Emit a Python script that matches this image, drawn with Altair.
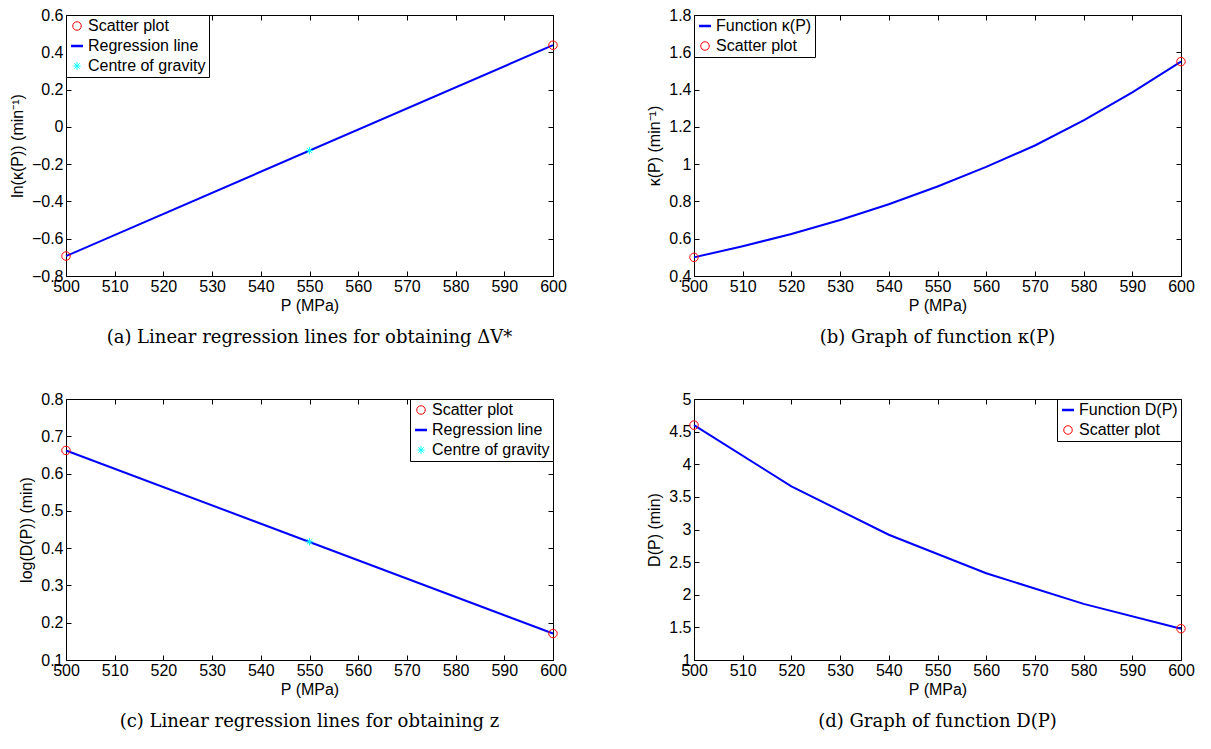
import altair as alt
import pandas as pd

# ---------------- data ----------------
x_ticks = [500, 510, 520, 530, 540, 550, 560, 570, 580, 590, 600]

# (a) ln(kappa(P))
P_ends = [500, 600]
lnk_scatter = [-0.693, 0.438]
lnk_regression = [-0.693, 0.438]
cog_P = [550]
lnk_cog = [-0.1275]
yticks_a = [-0.8, -0.6, -0.4, -0.2, 0, 0.2, 0.4, 0.6]

# (b) kappa(P)
P_kappa = [500, 510, 520, 530, 540, 550, 560, 570, 580, 590, 600]
kappa_vals = [0.50, 0.56, 0.625, 0.70, 0.785, 0.88, 0.985, 1.10, 1.235, 1.385, 1.55]
kappa_scatter = [0.50, 1.55]
yticks_b = [0.4, 0.6, 0.8, 1, 1.2, 1.4, 1.6, 1.8]

# (c) log(D(P))
logD_scatter = [0.662, 0.171]
logD_regression = [0.662, 0.171]
logD_cog = [0.417]
yticks_c = [0.1, 0.2, 0.3, 0.4, 0.5, 0.6, 0.7, 0.8]

# (d) D(P)
P_D = [500, 520, 540, 560, 580, 600]
D_vals = [4.60, 3.66, 2.92, 2.33, 1.86, 1.48]
D_scatter = [4.60, 1.48]
yticks_d = [1, 1.5, 2, 2.5, 3, 3.5, 4, 4.5, 5]

RED = "#ff0000"
BLUE = "#0000ff"
CYAN = "#00ffff"
ASTERISK = "M-1,0L1,0M0,-1L0,1M-0.72,-0.72L0.72,0.72M-0.72,0.72L0.72,-0.72"

SANS = "Liberation Sans"
SERIF = "DejaVu Serif"
W = 487
H = 261


def panel(line_df, pts_df, domain, shapes, colors, sizes, widths,
          ydom, yticks, ytitle, caption, legend_orient):
    xs = alt.Scale(domain=[500, 600], nice=False, zero=False)
    ys = alt.Scale(domain=ydom, nice=False, zero=False)
    x_bottom = alt.Axis(orient="bottom", values=x_ticks, title="P (MPa)",
                        offset=-5, tickSize=5, domain=False, grid=False,
                        labelFlush=False, labelPadding=2, titlePadding=3)
    y_left = alt.Axis(orient="left", values=yticks, title=ytitle, format="~g",
                      offset=-5, tickSize=5, domain=False, grid=False,
                      labelFlush=False, labelPadding=3, titlePadding=6)
    x_top = alt.Axis(orient="top", values=x_ticks, title=None, labels=False,
                     offset=-5, tickSize=5, domain=False, grid=False)
    y_right = alt.Axis(orient="right", values=yticks, title=None, labels=False,
                       offset=-5, tickSize=5, domain=False, grid=False)

    leg = alt.Legend(orient=legend_orient, title=None, offset=0,
                     fillColor="white", strokeColor="black", padding=3,
                     rowPadding=4, labelFont=SANS, labelFontSize=16,
                     labelColor="black", labelOffset=3, symbolOpacity=1)

    line = alt.Chart(line_df).mark_line(color=BLUE, strokeWidth=2).encode(
        x=alt.X("P:Q", scale=xs, axis=x_bottom),
        y=alt.Y("v:Q", scale=ys, axis=y_left),
    )
    pts = alt.Chart(pts_df).mark_point(filled=False, opacity=1).encode(
        x=alt.X("P:Q", scale=xs, axis=None),
        y=alt.Y("v:Q", scale=ys, axis=None),
        color=alt.Color("series:N", scale=alt.Scale(domain=domain, range=colors), legend=leg),
        shape=alt.Shape("series:N", scale=alt.Scale(domain=domain, range=shapes), legend=leg),
        size=alt.Size("series:N", scale=alt.Scale(type="ordinal", domain=domain, range=sizes), legend=leg),
        strokeWidth=alt.StrokeWidth("series:N", scale=alt.Scale(type="ordinal", domain=domain, range=widths), legend=leg),
    )
    ghost = alt.Chart(line_df).mark_line(opacity=0).encode(
        x=alt.X("P:Q", scale=xs, axis=x_top),
        y=alt.Y("v:Q", scale=ys, axis=y_right),
    )
    return alt.layer(line, pts, ghost).resolve_axis(
        x="independent", y="independent"
    ).properties(
        width=W, height=H,
        title=alt.TitleParams(caption, orient="bottom", anchor="middle", frame="group",
                              font=SERIF, fontSize=18, fontWeight="normal",
                              color="black", offset=16),
    )


# ---- (a)
line_a = pd.DataFrame({"P": P_ends, "v": lnk_regression})
pts_a = pd.DataFrame({
    "P": P_ends + cog_P,
    "v": lnk_scatter + lnk_cog,
    "series": ["Scatter plot"] * len(P_ends) + ["Centre of gravity"] * len(cog_P),
})
dom_reg = ["Scatter plot", "Regression line", "Centre of gravity"]
pa = panel(line_a, pts_a, dom_reg, ["circle", "stroke", ASTERISK], [RED, BLUE, CYAN],
           [72, 144, 56], [1, 2.5, 1], [-0.8, 0.6], yticks_a, "ln(κ(P)) (min⁻¹)",
           "(a) Linear regression lines for obtaining ΔV*", "top-left")

# ---- (b)
line_b = pd.DataFrame({"P": P_kappa, "v": kappa_vals})
pts_b = pd.DataFrame({"P": P_ends, "v": kappa_scatter, "series": ["Scatter plot"] * 2})
dom_fk = ["Function κ(P)", "Scatter plot"]
pb = panel(line_b, pts_b, dom_fk, ["stroke", "circle"], [BLUE, RED], [144, 72], [2.5, 1],
           [0.4, 1.8], yticks_b, "κ(P) (min⁻¹)", "(b) Graph of function κ(P)", "top-left")

# ---- (c)
line_c = pd.DataFrame({"P": P_ends, "v": logD_regression})
pts_c = pd.DataFrame({
    "P": P_ends + cog_P,
    "v": logD_scatter + logD_cog,
    "series": ["Scatter plot"] * len(P_ends) + ["Centre of gravity"] * len(cog_P),
})
pc = panel(line_c, pts_c, dom_reg, ["circle", "stroke", ASTERISK], [RED, BLUE, CYAN],
           [72, 144, 56], [1, 2.5, 1], [0.1, 0.8], yticks_c, "log(D(P)) (min)",
           "(c) Linear regression lines for obtaining z", "top-right")

# ---- (d)
line_d = pd.DataFrame({"P": P_D, "v": D_vals})
pts_d = pd.DataFrame({"P": P_ends, "v": D_scatter, "series": ["Scatter plot"] * 2})
dom_fd = ["Function D(P)", "Scatter plot"]
pd_ = panel(line_d, pts_d, dom_fd, ["stroke", "circle"], [BLUE, RED], [144, 72], [2.5, 1],
            [1, 5], yticks_d, "D(P) (min)", "(d) Graph of function D(P)", "top-right")

RES = dict(color="independent", shape="independent", size="independent", strokeWidth="independent")
top = alt.hconcat(pa, pb, spacing=79).resolve_scale(**RES)
bottom = alt.hconcat(pc, pd_, spacing=79).resolve_scale(**RES)

chart = alt.vconcat(top, bottom, spacing=42).resolve_scale(**RES).properties(
    padding={"left": 8, "top": 6, "right": 5, "bottom": 5},
    background="white",
).configure_view(
    stroke="black", strokeWidth=1
).configure_axis(
    labelFont=SANS, labelFontSize=16, labelColor="black",
    titleFont=SANS, titleFontSize=16, titleColor="black", titleFontWeight="normal",
    tickColor="black", tickWidth=1,
)

chart.save("out.html", embed_options={"renderer": "svg", "actions": False})
